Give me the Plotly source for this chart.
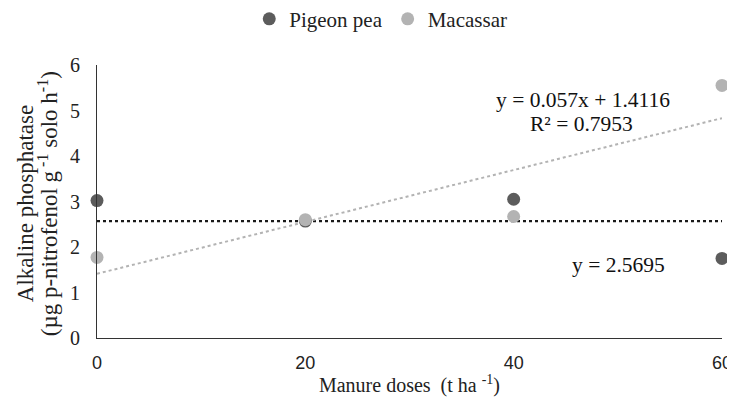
import plotly.graph_objects as go

doses = [0, 20, 40, 60]
pigeon_pea = [3.02, 2.57, 3.05, 1.75]
macassar = [1.77, 2.60, 2.67, 5.55]
tick_vals = [0, 20, 40, 60]
tick_text = ["0", "20", "40", "60"]
pigeon_fit_const = 2.5695
mac_slope = 0.057
mac_intercept = 1.4116

SERIF = "Liberation Serif, Times New Roman, serif"
SANS = "Liberation Sans, Arial, sans-serif"
DARK = "#5c5c5c"
LIGHT = "#b3b3b3"

fig = go.Figure()

x_fit = [doses[0], doses[-1]]
fig.add_trace(go.Scatter(x=x_fit, y=[pigeon_fit_const] * 2, mode="lines",
                         line=dict(color="#1a1a1a", width=2.4, dash="dot"),
                         showlegend=False, hoverinfo="skip"))
fig.add_trace(go.Scatter(x=x_fit, y=[mac_slope * v + mac_intercept for v in x_fit], mode="lines",
                         line=dict(color=LIGHT, width=2, dash="dot"),
                         showlegend=False, hoverinfo="skip"))

fig.add_trace(go.Scatter(x=doses, y=pigeon_pea, mode="markers", name="Pigeon pea",
                         marker=dict(color=DARK, size=13), cliponaxis=False))
fig.add_trace(go.Scatter(x=doses, y=macassar, mode="markers", name="Macassar",
                         marker=dict(color=LIGHT, size=13), cliponaxis=False))

fig.add_annotation(x=46.7, y=5.22, xref="x", yref="y", text="y = 0.057x + 1.4116",
                   showarrow=False, font=dict(family=SERIF, size=21.5, color="#111"))
fig.add_annotation(x=46.5, y=4.70, xref="x", yref="y", text="R² = 0.7953",
                   showarrow=False, font=dict(family=SERIF, size=21.5, color="#111"))
fig.add_annotation(x=50.1, y=1.60, xref="x", yref="y", text="y = 2.5695",
                   showarrow=False, font=dict(family=SERIF, size=21.5, color="#111"))

# y-axis title (two lines placed individually)
fig.add_annotation(x=-0.1152, y=0.49, xref="paper", yref="paper", text="Alkaline phosphatase",
                   textangle=-90, showarrow=False, xanchor="center", yanchor="middle",
                   font=dict(family=SERIF, size=23, color="#222"))
fig.add_annotation(x=-0.0784, y=0.49, xref="paper", yref="paper",
                   text="(µg p-nitrofenol g<sup> -1</sup> solo h<sup>-1</sup>)",
                   textangle=-90, showarrow=False, xanchor="center", yanchor="middle",
                   font=dict(family=SERIF, size=23, color="#222"))

fig.update_layout(
    width=727, height=395,
    margin=dict(l=89, r=13, t=57, b=65, autoexpand=False),
    plot_bgcolor="white", paper_bgcolor="white",
    font=dict(family=SERIF, size=20, color="#222"),
    legend=dict(orientation="h", x=0.454, xanchor="center", y=1.168, yanchor="middle",
                font=dict(family=SERIF, size=21), itemwidth=30, tracegroupgap=0),
    showlegend=True,
)
fig.update_xaxes(range=[0, 60], tickvals=tick_vals, ticktext=tick_text,
                 showgrid=False, zeroline=False, showline=True, linecolor="#333", linewidth=1,
                 ticks="", ticklabelstandoff=8, ticklabeloverflow="allow",
                 tickfont=dict(family=SANS, size=18, color="#222"),
                 title=dict(text="Manure doses  (t ha <sup>-1</sup>)", standoff=6,
                            font=dict(family=SERIF, size=20)))
fig.update_yaxes(range=[0, 6], dtick=1, showgrid=False, zeroline=False, showline=True,
                 linecolor="#333", linewidth=1, ticks="", ticklabelstandoff=12,
                 tickfont=dict(family=SERIF, size=20))

fig.write_html("out.html")
